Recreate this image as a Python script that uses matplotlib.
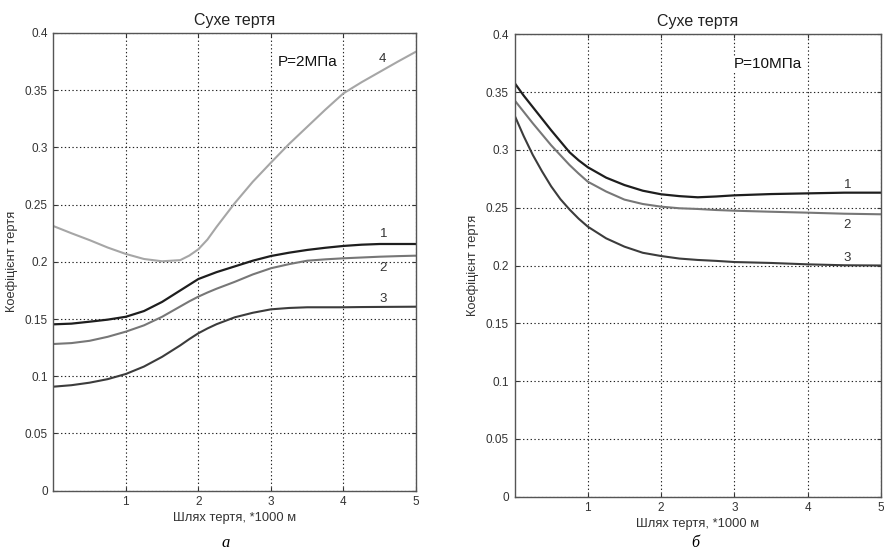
import numpy as np
import matplotlib
matplotlib.use("Agg")
import matplotlib.pyplot as plt

plt.rcParams['font.family'] = ['Liberation Sans', 'DejaVu Sans']

# ---- data ----
# panel a: P = 2 MPa
x_a = [0, 0.25, 0.5, 0.75, 1.0, 1.25, 1.5, 1.75, 1.875, 2.0, 2.125, 2.25, 2.5, 2.75, 3.0,
       3.25, 3.5, 3.75, 4.0, 4.25, 4.5, 4.75, 5.0]
a_c1 = [0.1454, 0.146, 0.1477, 0.1495, 0.152, 0.157, 0.165, 0.175, 0.180, 0.185, 0.188,
        0.191, 0.196, 0.201, 0.2051, 0.208, 0.2104, 0.2123, 0.2139, 0.215, 0.2156, 0.2156, 0.2156]
a_c2 = [0.1282, 0.129, 0.131, 0.1345, 0.139, 0.1445, 0.152, 0.161, 0.1655, 0.1696, 0.1732,
        0.1765, 0.1825, 0.189, 0.1944, 0.198, 0.201, 0.2022, 0.2031, 0.2038, 0.2045, 0.205, 0.2054]
a_c3 = [0.0909, 0.0922, 0.0944, 0.0975, 0.102, 0.1085, 0.117, 0.127, 0.1325, 0.1376, 0.1418,
        0.1455, 0.1515, 0.1555, 0.1585, 0.1597, 0.1603, 0.1603, 0.1603, 0.1605, 0.1606, 0.1607, 0.1608]
a_c4 = [0.2313, 0.225, 0.219, 0.2125, 0.2069, 0.2025, 0.2005, 0.2015, 0.2055, 0.211, 0.2195,
        0.2305, 0.2512, 0.270, 0.2867, 0.303, 0.318, 0.333, 0.3473, 0.357, 0.366, 0.375, 0.3837]

# panel b: P = 10 MPa
x_b = [0, 0.125, 0.25, 0.375, 0.5, 0.625, 0.75, 0.875, 1.0, 1.25, 1.5, 1.75, 2.0,
       2.25, 2.5, 2.75, 3.0, 3.5, 4.0, 4.5, 5.0]
b_c1 = [0.358, 0.347, 0.337, 0.327, 0.317, 0.3075, 0.298, 0.291, 0.285, 0.276, 0.2696,
        0.2647, 0.2616, 0.260, 0.259, 0.2597, 0.2607, 0.2618, 0.2624, 0.263, 0.263]
b_c2 = [0.343, 0.333, 0.323, 0.3135, 0.304, 0.2955, 0.287, 0.2795, 0.2725, 0.264, 0.257,
        0.2532, 0.2509, 0.2495, 0.2489, 0.248, 0.2474, 0.2465, 0.2457, 0.2448, 0.2443]
b_c3 = [0.330, 0.312, 0.2956, 0.2815, 0.2685, 0.2575, 0.2485, 0.2405, 0.2336, 0.2235, 0.2163,
        0.211, 0.2082, 0.206, 0.2048, 0.204, 0.203, 0.2022, 0.201, 0.2002, 0.200]

colors = {'1': '#1e1e1e', '2': '#777777', '3': '#3c3c3c', '4': '#a6a6a6'}

title = 'Сухе тертя'
xlabel = 'Шлях тертя, *1000 м'
ylabel = 'Коефіцієнт тертя'

W, H = 884, 551
fig = plt.figure(figsize=(W / 100, H / 100), dpi=100)


def px_axes(l, t, r, b):
    return fig.add_axes([l / W, 1 - b / H, (r - l) / W, (b - t) / H])


def style(ax):
    ax.set_xlim(0, 5)
    ax.set_ylim(0, 0.4)
    ax.set_xticks([1, 2, 3, 4, 5])
    ax.set_xticklabels(['1', '2', '3', '4', '5'])
    ax.set_yticks(np.arange(0, 0.41, 0.05))
    ax.set_yticklabels(['0', '0.05', '0.1', '0.15', '0.2', '0.25', '0.3', '0.35', '0.4'])
    ax.tick_params(direction='in', length=3, width=0.8, labelsize=8.5,
                   colors='#333333', top=True, right=True, pad=4)
    ax.grid(True, color='#222222', linestyle=(0, (1.2, 2.2)), linewidth=0.8)
    for s in ax.spines.values():
        s.set_color('#555555')
        s.set_linewidth(1.0)
    ax.set_title(title, fontsize=11.5, pad=6, color='#222222')
    ax.set_xlabel(xlabel, fontsize=9.3, color='#333333', labelpad=3)
    ax.set_ylabel(ylabel, fontsize=9.3, color='#333333', labelpad=5)


# ---- panel a ----
ax1 = px_axes(53.3, 33, 416, 490.7)
ax1.plot(x_a, a_c4, color=colors['4'], lw=1.5)
ax1.plot(x_a, a_c1, color=colors['1'], lw=1.6)
ax1.plot(x_a, a_c2, color=colors['2'], lw=1.5)
ax1.plot(x_a, a_c3, color=colors['3'], lw=1.5)
style(ax1)
ax1.text(4.53, 0.3776, '4', fontsize=9.5, color='#333333', ha='center', va='center')
ax1.text(4.55, 0.2244, '1', fontsize=9.5, color='#333333', ha='center', va='center')
ax1.text(4.55, 0.1947, '2', fontsize=9.5, color='#333333', ha='center', va='center')
ax1.text(4.55, 0.1676, '3', fontsize=9.5, color='#333333', ha='center', va='center')
ax1.text(3.09, 0.3747, 'P=2МПа', fontsize=11, color='#111111', ha='left', va='center',
         bbox=dict(facecolor='white', edgecolor='none', pad=0.5))
fig.text(226 / W, 1 - 543 / H, 'а', fontsize=12, fontstyle='italic',
         family='Liberation Serif', ha='center', va='center')

# ---- panel b ----
ax2 = px_axes(514.5, 34.3, 881, 496.7)
ax2.plot(x_b, b_c1, color=colors['1'], lw=1.6)
ax2.plot(x_b, b_c2, color=colors['2'], lw=1.5)
ax2.plot(x_b, b_c3, color=colors['3'], lw=1.5)
style(ax2)
ax2.text(4.54, 0.2696, '1', fontsize=9.5, color='#333333', ha='center', va='center')
ax2.text(4.54, 0.235, '2', fontsize=9.5, color='#333333', ha='center', va='center')
ax2.text(4.54, 0.2065, '3', fontsize=9.5, color='#333333', ha='center', va='center')
ax2.text(2.99, 0.3743, 'P=10МПа', fontsize=11, color='#111111', ha='left', va='center',
         bbox=dict(facecolor='white', edgecolor='none', pad=0.5))
fig.text(695 / W, 1 - 543 / H, 'б', fontsize=11.5, fontstyle='italic',
         family='Liberation Serif', ha='center', va='center')

fig.savefig('out.png', dpi=100, facecolor='white')
